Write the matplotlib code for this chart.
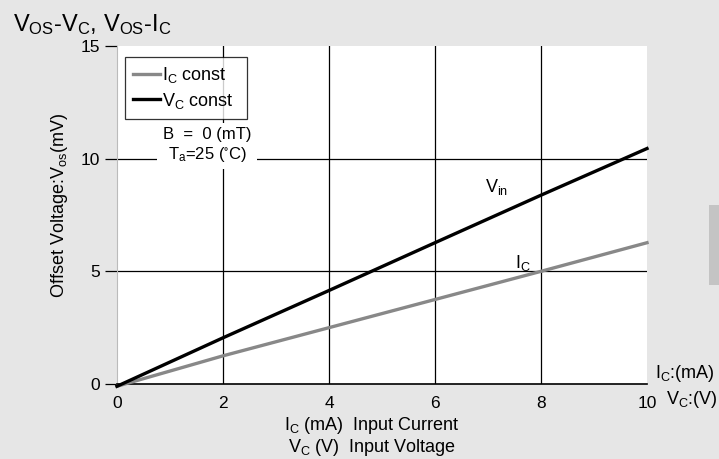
import matplotlib
matplotlib.use("Agg")
import matplotlib.pyplot as plt
from matplotlib.patches import Rectangle

plt.rcParams['font.family'] = ['Liberation Sans', 'DejaVu Sans']
plt.rcParams['mathtext.fontset'] = 'custom'
plt.rcParams['mathtext.rm'] = 'Liberation Sans'
plt.rcParams['mathtext.it'] = 'Liberation Sans'
plt.rcParams['mathtext.default'] = 'regular'

x_vals = [0, 2, 4, 6, 8, 10]
vc_const = [-0.1, 2.05, 4.15, 6.27, 8.38, 10.45]
ic_const = [-0.1, 1.25, 2.5, 3.75, 5.0, 6.27]
xticks = [0, 2, 4, 6, 8, 10]
yticks = [0, 5, 10, 15]

fig = plt.figure(figsize=(7.19, 4.59), dpi=100)
fig.patch.set_facecolor('#e6e6e6')
ax = fig.add_axes([117/719, 1-384/459, 530/719, 338/459])
ax.set_facecolor('white')
ax.set_xlim(0, 10)
ax.set_ylim(0, 15)

for xv in [2, 4, 6, 8]:
    ax.axvline(xv, color='black', lw=0.9, zorder=1)
for yv in [5, 10]:
    ax.axhline(yv, color='black', lw=0.9, zorder=1)

l1, = ax.plot(x_vals, ic_const, color='#888888', lw=2.4, label='$I_C$ const  ', zorder=3, clip_on=False)
l2, = ax.plot(x_vals, vc_const, color='black', lw=2.4, label='$V_C$ const  ', zorder=3, clip_on=False)

ax.set_xticks(xticks)
ax.set_yticks(yticks)
ax.set_xticklabels(['0', '2', '4', '6', '8', '10'], fontsize=12.5)
ax.set_yticklabels(['0', '5', '10', '15'], fontsize=12.5)
ax.tick_params(axis='x', length=0, pad=9)
ax.tick_params(axis='y', direction='out', length=9, width=0.9, pad=3)
for s in ['top', 'right']:
    ax.spines[s].set_visible(False)
ax.spines['left'].set_color('#bbbbbb')
ax.spines['bottom'].set_color('black')
ax.spines['bottom'].set_linewidth(1.2)

leg = ax.legend(handles=[l1, l2], loc='upper left', bbox_to_anchor=(8/530, 1-11/338),
                fontsize=13, frameon=True, fancybox=False, edgecolor='black',
                handlelength=1.5, handletextpad=0.1, borderpad=0.45, labelspacing=0.3,
                borderaxespad=0)
leg.get_frame().set_linewidth(0.9)
leg.set_zorder(5)

ax.text(1.7, 10.6, 'B  =  0 (mT)\n$T_a$=25 ($^{\\circ}$C)', fontsize=12, ha='center', va='center',
        linespacing=1.2, zorder=4,
        bbox=dict(boxstyle='square,pad=0.35', fc='white', ec='none'))

ax.text(7.17, 8.75, '$V_{in}$', fontsize=13, ha='center', va='center', zorder=4)
ax.text(7.66, 5.38, '$I_C$', fontsize=13, ha='center', va='center', zorder=4)

fig.text(13/719, 1-25/459, '$V_{OS}$-$V_C$, $V_{OS}$-$I_C$', fontsize=17, ha='left', va='center')
fig.text(60/719, 1-206/459, 'Offset Voltage:V$_{os}$(mV)', fontsize=13, rotation=90,
         ha='center', va='center')
fig.text(372/719, 1-425/459, '$I_C$ (mA)  Input Current', fontsize=13, ha='center', va='center')
fig.text(372/719, 1-448/459, '$V_C$ (V)  Input Voltage', fontsize=13, ha='center', va='center')
fig.text(655/719, 1-373/459, '$I_C$:(mA)', fontsize=13, ha='left', va='center')
fig.text(666/719, 1-400/459, '$V_C$:(V)', fontsize=13, ha='left', va='center')

fig.patches.append(Rectangle((709/719, 1-285/459), 12/719, 80/459, transform=fig.transFigure,
                             facecolor='#c4c4c4', edgecolor='none'))

fig.savefig('out.png', dpi=100, facecolor=fig.get_facecolor())
